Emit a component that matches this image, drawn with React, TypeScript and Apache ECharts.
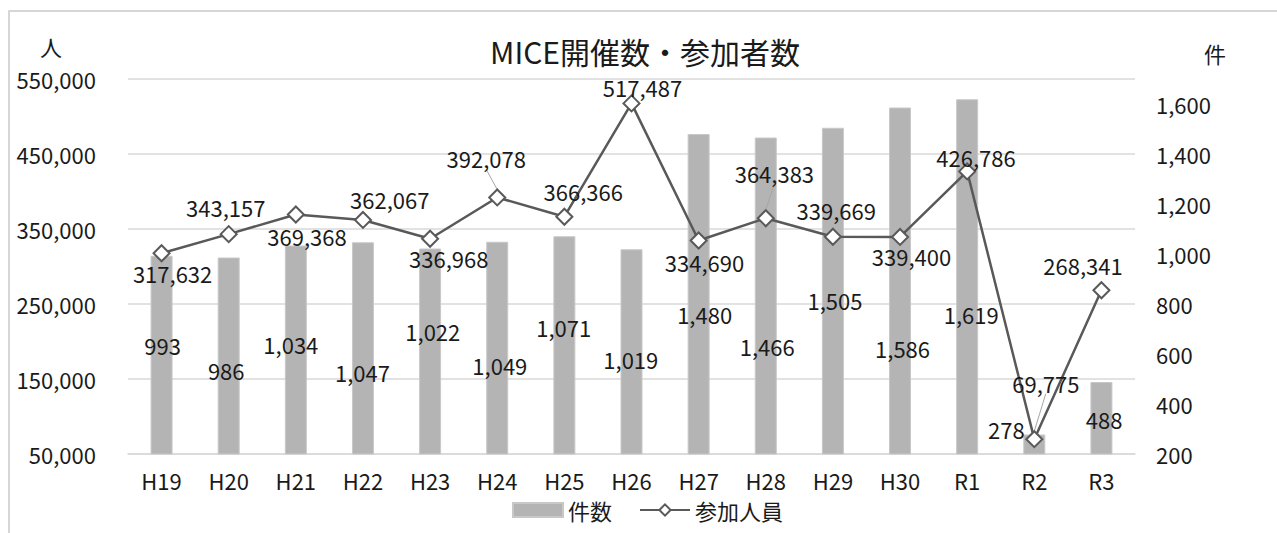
import { useEffect, useRef } from 'react';
import * as echarts from 'echarts';

// 年度ごとの MICE 開催件数と参加人員
const categories = ['H19', 'H20', 'H21', 'H22', 'H23', 'H24', 'H25', 'H26', 'H27', 'H28', 'H29', 'H30', 'R1', 'R2', 'R3'];
const eventCounts = [993, 986, 1034, 1047, 1022, 1049, 1071, 1019, 1480, 1466, 1505, 1586, 1619, 278, 488];
const participants = [317632, 343157, 369368, 362067, 336968, 392078, 366366, 517487, 334690, 364383, 339669, 339400, 426786, 69775, 268341];

// labelled ticks on each value axis
const peopleTicks = [50000, 150000, 250000, 350000, 450000, 550000];
const countTicks = [200, 400, 600, 800, 1000, 1200, 1400, 1600];

// hand-placed data label nudges [dx, dy] in px
const countLabelOffsets = [
  [1, -10], [-2.5, 14], [-5, -6.5], [-0.5, 23.5], [2.7, -21], [2.6, 17], [-0.6, -18.4], [-0.7, 7.4],
  [6, 19.3], [1.5, 50], [2, 9], [2.5, 66.5], [4, 36.7], [-28, -16], [2.6, 0.3],
];
const peopleLabelOffsets = [
  [11, 19.4], [-3, -26.8], [11.2, 21.2], [26.8, -20.6], [18.6, 19.5], [-11, -39], [18.9, -26], [11, -16.7],
  [5.9, 21.2], [8.6, -45.5], [3.3, -26.7], [11.4, 18.8], [8.8, -14.7], [11.5, -56.5], [-18.5, -25.2],
];
// points whose labels carry a leader line
const leaderIndices = [5, 9, 13];

const FONT = "'Noto Sans CJK JP', 'Noto Sans', sans-serif";
const TEXT = '#1a1a1a';
const GRID = '#d9d9d9';
const fmt = (v: number) => v.toLocaleString('en-US');

export default function App() {
  const ref = useRef<HTMLDivElement>(null);

  useEffect(() => {
    if (!ref.current) return;
    const chart = echarts.init(ref.current, undefined, { renderer: 'svg' });

    chart.setOption({
      animation: false,
      backgroundColor: '#ffffff',
      textStyle: { fontFamily: FONT },
      title: {
        text: 'MICE開催数・参加者数',
        left: 645,
        textAlign: 'center',
        top: 36,
        padding: 0,
        textStyle: { fontFamily: FONT, fontSize: 30, fontWeight: 'normal', color: TEXT },
      },
      graphic: [
        {
          type: 'rect',
          silent: true,
          z: -10,
          shape: { x: 9, y: 11, width: 1320, height: 620 },
          style: { fill: 'none', stroke: '#c9c9c9', lineWidth: 1.5 },
        },
        {
          type: 'text',
          x: 51,
          y: 46,
          style: { text: '人', font: `22px ${FONT}`, fill: TEXT, align: 'center', verticalAlign: 'middle' },
        },
        {
          type: 'text',
          x: 1215,
          y: 53,
          style: { text: '件', font: `22px ${FONT}`, fill: TEXT, align: 'center', verticalAlign: 'middle' },
        },
      ],
      legend: {
        left: 512,
        top: 499,
        padding: 0,
        itemWidth: 50,
        itemHeight: 14,
        itemGap: 27,
        textStyle: { fontFamily: FONT, fontSize: 22, lineHeight: 20, color: TEXT },
        data: [{ name: '件数', icon: 'rect' }, { name: '参加人員' }],
      },
      grid: { left: 128, right: 142, top: 79, bottom: 79, containLabel: false },
      xAxis: {
        type: 'category',
        data: categories,
        axisLine: { lineStyle: { color: GRID, width: 1.5 } },
        axisTick: { show: false },
        axisLabel: { fontFamily: FONT, fontSize: 22, lineHeight: 20, color: TEXT, margin: 16 },
      },
      yAxis: [
        {
          type: 'value',
          min: 50000,
          max: 550000,
          interval: 50000,
          axisLine: { show: false },
          axisTick: { show: false },
          axisLabel: {
            fontFamily: FONT,
            fontSize: 22,
            color: TEXT,
            margin: 32,
            formatter: (v: number) => (peopleTicks.includes(v) ? fmt(v) : ''),
          },
          splitLine: { show: true, lineStyle: { color: [GRID, 'rgba(0,0,0,0)'], width: 1.5 } },
        },
        {
          type: 'value',
          min: 200,
          max: 1700,
          interval: 200,
          axisLine: { show: false },
          axisTick: { show: false },
          splitLine: { show: false },
          axisLabel: {
            fontFamily: FONT,
            fontSize: 22,
            color: TEXT,
            margin: 21,
            align: 'left',
            formatter: (v: number) => (countTicks.includes(v) ? fmt(v) : ''),
          },
        },
      ],
      series: [
        {
          name: '件数',
          type: 'bar',
          yAxisIndex: 1,
          barWidth: 22,
          itemStyle: { color: '#b4b4b4', borderColor: '#c8c8c8', borderWidth: 1 },
          label: {
            show: true,
            position: 'inside',
            fontFamily: FONT,
            fontSize: 22,
            color: TEXT,
            formatter: (p: any) => fmt(p.value),
          },
          data: eventCounts.map((v, i) => ({ value: v, label: { offset: countLabelOffsets[i] } })),
          z: 2,
        },
        {
          name: '参加人員',
          type: 'line',
          yAxisIndex: 0,
          symbol: 'diamond',
          symbolSize: 16,
          lineStyle: { color: '#595959', width: 2.5 },
          itemStyle: { color: '#ffffff', borderColor: '#595959', borderWidth: 2 },
          label: {
            show: true,
            position: 'inside',
            fontFamily: FONT,
            fontSize: 22,
            color: TEXT,
            formatter: (p: any) => fmt(p.value),
          },
          data: participants.map((v, i) => ({
            value: v,
            label: { offset: peopleLabelOffsets[i] },
            labelLine: leaderIndices.includes(i)
              ? { show: true, lineStyle: { color: '#a6a6a6', width: 1 } }
              : undefined,
          })),
          z: 5,
        },
      ],
    });

    return () => chart.dispose();
  }, []);

  return (
    <div
      ref={ref}
      style={{ position: 'absolute', left: 0, top: 0, width: 1277, height: 533, background: '#fff' }}
    />
  );
}
